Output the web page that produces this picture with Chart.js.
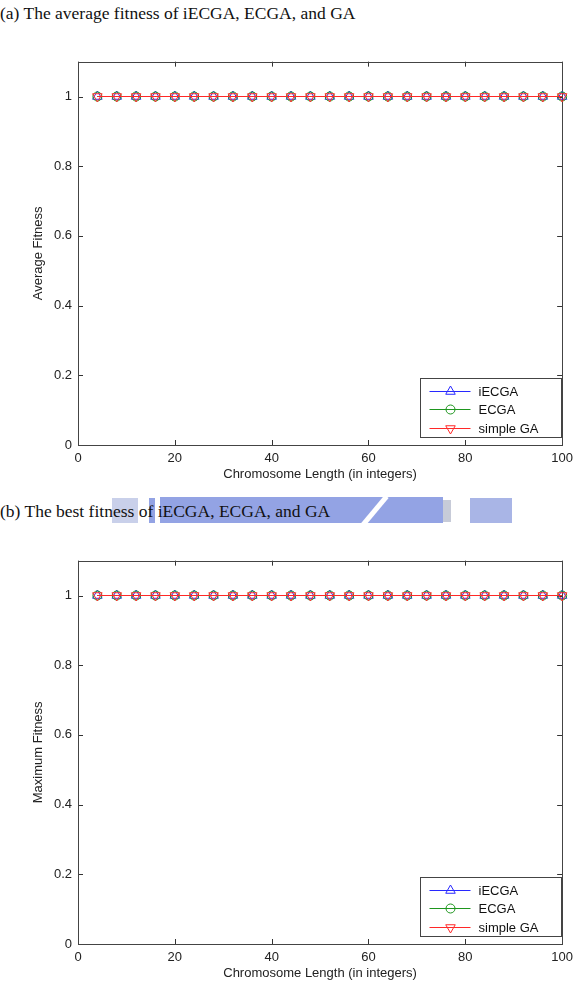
<!DOCTYPE html>
<html>
<head>
<meta charset="utf-8">
<script src="https://cdn.jsdelivr.net/npm/chart.js@4.4.0/dist/chart.umd.min.js"></script>
<style>
body { margin:0; background:#fff; width:579px; height:997px; position:relative; overflow:hidden; }
.cap { position:absolute; left:0; font-family:"Liberation Serif", serif; font-size:17.5px; color:#111; z-index:3; white-space:nowrap; }
.wm { position:absolute; background:#93a3e4; z-index:1; }
canvas { position:absolute; left:0; }
</style>
</head>
<body>

<div class="cap" style="top:3px">(a) The average fitness of iECGA, ECGA, and GA</div>
<div class="cap" style="top:501px">(b) The best fitness of iECGA, ECGA, and GA</div>

<!-- marca de agua azul del escaneo -->
<div class="wm" style="left:112px;top:498px;width:26px;height:25px;background:#c9d0ea"></div>
<div class="wm" style="left:149px;top:498px;width:6px;height:25px"></div>
<div class="wm" style="left:160px;top:497px;width:283px;height:26px"></div>
<div class="wm" style="left:443px;top:500px;width:8px;height:22px;background:#c7cbd8"></div>
<div class="wm" style="left:470px;top:498px;width:42px;height:25px;background:#a9b5e6"></div>
<div class="wm" style="left:372px;top:492px;width:5px;height:38px;background:#fff;transform:rotate(40deg);z-index:2"></div>

<canvas id="graficaPromedio" width="579" height="450" style="top:40px"></canvas>
<canvas id="graficaMejor" width="579" height="450" style="top:539px"></canvas>

<script>
// longitudes del cromosoma (eje x)
var longitudes = [4, 8, 12, 16, 20, 24, 28, 32, 36, 40, 44, 48, 52, 56, 60, 64, 68, 72, 76, 80, 84, 88, 92, 96, 100];

// fitness promedio (a)
var promedioIECGA = [1, 1, 1, 1, 1, 1, 1, 1, 1, 1, 1, 1, 1, 1, 1, 1, 1, 1, 1, 1, 1, 1, 1, 1, 1];
var promedioECGA  = [1, 1, 1, 1, 1, 1, 1, 1, 1, 1, 1, 1, 1, 1, 1, 1, 1, 1, 1, 1, 1, 1, 1, 1, 1];
var promedioGA    = [1, 1, 1, 1, 1, 1, 1, 1, 1, 1, 1, 1, 1, 1, 1, 1, 1, 1, 1, 1, 1, 1, 1, 1, 1];

// mejor fitness (b)
var mejorIECGA = [1, 1, 1, 1, 1, 1, 1, 1, 1, 1, 1, 1, 1, 1, 1, 1, 1, 1, 1, 1, 1, 1, 1, 1, 1];
var mejorECGA  = [1, 1, 1, 1, 1, 1, 1, 1, 1, 1, 1, 1, 1, 1, 1, 1, 1, 1, 1, 1, 1, 1, 1, 1, 1];
var mejorGA    = [1, 1, 1, 1, 1, 1, 1, 1, 1, 1, 1, 1, 1, 1, 1, 1, 1, 1, 1, 1, 1, 1, 1, 1, 1];

var nombres = ['iECGA', 'ECGA', 'simple GA'];
var ticksX = [0, 20, 40, 60, 80, 100];
var ticksY = [0, 0.2, 0.4, 0.6, 0.8, 1];

var colores = ['rgb(40,40,255)', 'rgb(30,150,30)', 'rgb(255,40,40)'];
var estilos = [
    { pointStyle: 'triangle', rotation: 0, radius: 5.5 },
    { pointStyle: 'circle', rotation: 0, radius: 4.5 },
    { pointStyle: 'triangle', rotation: 180, radius: 5.5 }
];
var fuente = '"Liberation Sans", Arial, sans-serif';

function armarPuntos(valores) {
    return longitudes.map(function(x, i) { return { x: x, y: valores[i] }; });
}

// caja con ticks hacia adentro, estilo matlab
var marcoPlugin = {
    id: 'marco',
    beforeDatasetsDraw: function(chart) {
        var ctx = chart.ctx, a = chart.chartArea;
        var sx = chart.scales.x, sy = chart.scales.y;
        ctx.save();
        ctx.strokeStyle = '#333';
        ctx.lineWidth = 1;
        ctx.beginPath();
        ticksX.forEach(function(t) {
            var px = Math.round(sx.getPixelForValue(t)) + 0.5;
            ctx.moveTo(px, a.bottom); ctx.lineTo(px, a.bottom - 5);
            ctx.moveTo(px, a.top); ctx.lineTo(px, a.top + 5);
        });
        ticksY.forEach(function(t) {
            var py = Math.round(sy.getPixelForValue(t)) + 0.5;
            ctx.moveTo(a.left, py); ctx.lineTo(a.left + 5, py);
            ctx.moveTo(a.right, py); ctx.lineTo(a.right - 5, py);
        });
        ctx.stroke();
        ctx.strokeStyle = '#444';
        ctx.strokeRect(Math.round(a.left) + 0.5, Math.round(a.top) + 0.5, Math.round(a.right - a.left), Math.round(a.bottom - a.top));
        ctx.restore();
    },
    afterDraw: function(chart) {
        // leyenda dentro del area, abajo a la derecha
        var ctx = chart.ctx, a = chart.chartArea;
        var bx = Math.round(a.right - 142) + 0.5, by = Math.round(a.bottom - 67) + 0.5;
        ctx.save();
        ctx.fillStyle = '#fff';
        ctx.fillRect(bx, by, 141, 59);
        ctx.strokeStyle = '#444';
        ctx.lineWidth = 1;
        ctx.strokeRect(bx, by, 141, 59);
        ctx.font = '13px ' + fuente;
        ctx.textBaseline = 'middle';
        for (var i = 0; i < nombres.length; i++) {
            var y = Math.round(by + 12 + i * 18.5) + 0.5;
            ctx.strokeStyle = colores[i];
            ctx.beginPath();
            ctx.moveTo(bx + 9, y); ctx.lineTo(bx + 50, y);
            ctx.stroke();
            ctx.fillStyle = 'rgba(0,0,0,0)';
            Chart.helpers.drawPoint(ctx, { pointStyle: estilos[i].pointStyle, rotation: estilos[i].rotation, radius: estilos[i].radius, borderWidth: 1 }, bx + 30, y);
            ctx.fillStyle = '#111';
            ctx.fillText(nombres[i], bx + 58, y + 1);
        }
        ctx.restore();
    }
};

function crearGrafica(id, series, tituloY) {
    var datasets = series.map(function(valores, i) {
        return {
            label: nombres[i],
            data: armarPuntos(valores),
            borderColor: colores[i],
            backgroundColor: 'rgba(0,0,0,0)',
            borderWidth: 1,
            pointStyle: estilos[i].pointStyle,
            rotation: estilos[i].rotation,
            pointRadius: estilos[i].radius,
            pointBorderWidth: 1,
            pointBorderColor: colores[i],
            order: series.length - i, // simple GA queda encima, como en matlab
            clip: false
        };
    });
    var ctx = document.getElementById(id).getContext('2d');
    return new Chart(ctx, {
        type: 'line',
        data: { datasets: datasets },
        plugins: [marcoPlugin],
        options: {
            responsive: false,
            animation: false,
            // padding arriba fraccionario para que la linea en 1 caiga centrada en un pixel
            layout: { padding: { top: 21.65, right: 14, left: 0, bottom: 0 } },
            plugins: { legend: { display: false }, tooltip: { enabled: false } },
            scales: {
                x: {
                    type: 'linear', min: 0, max: 100,
                    afterBuildTicks: function(s) { s.ticks = ticksX.map(function(v) { return { value: v }; }); },
                    afterFit: function(s) { s.height = 45; },
                    grid: { display: false, drawTicks: false },
                    border: { display: false },
                    ticks: { color: '#222', padding: 6, font: { family: fuente, size: 13 } },
                    title: { display: true, text: 'Chromosome Length (in integers)', color: '#222', padding: { bottom: 8 }, font: { family: fuente, size: 13 } }
                },
                y: {
                    type: 'linear', min: 0, max: 1.1,
                    afterBuildTicks: function(s) { s.ticks = ticksY.map(function(v) { return { value: v }; }); },
                    afterFit: function(s) { s.width = 78; },
                    grid: { display: false, drawTicks: false },
                    border: { display: false },
                    ticks: {
                        color: '#222', padding: 6, font: { family: fuente, size: 13 },
                        callback: function(v) { return String(v); }
                    },
                    title: { display: true, text: tituloY, color: '#222', padding: { top: 31 }, font: { family: fuente, size: 13 } }
                }
            }
        }
    });
}

crearGrafica('graficaPromedio', [promedioIECGA, promedioECGA, promedioGA], 'Average Fitness');
crearGrafica('graficaMejor', [mejorIECGA, mejorECGA, mejorGA], 'Maximum Fitness');
</script>
</body>
</html>
